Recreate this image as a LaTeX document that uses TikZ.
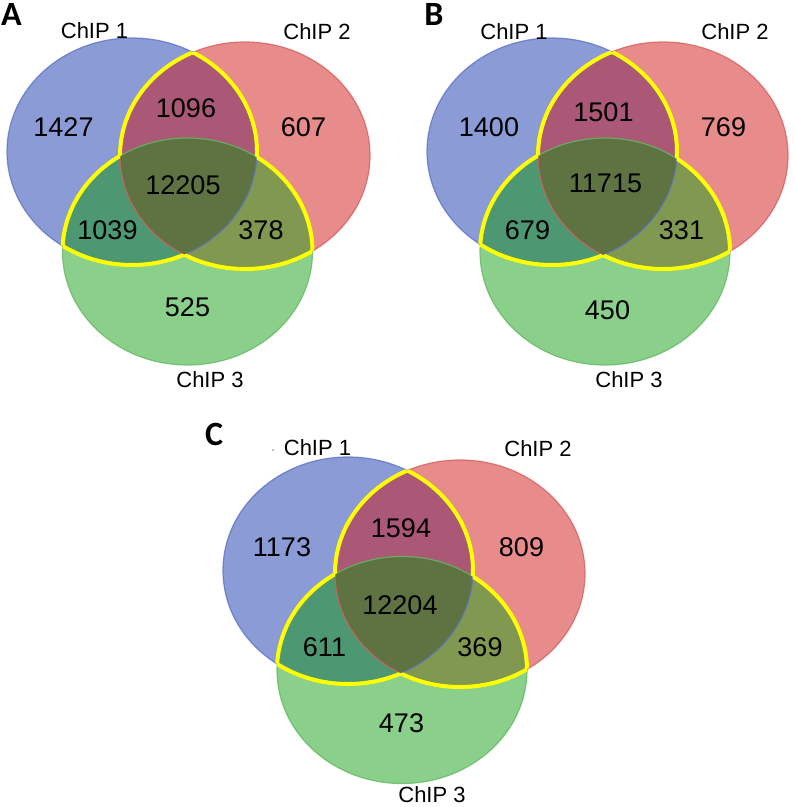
\documentclass[tikz,border=0pt]{standalone}
\usepackage{fontspec}
\setmainfont{Liberation Sans}
\newfontfamily\panelfont{Carlito}
\definecolor{cblue}{RGB}{138,155,214}
\definecolor{cred}{RGB}{231,139,139}
\definecolor{cgreen}{RGB}{138,208,138}
\definecolor{cbr}{RGB}{170,88,118}
\definecolor{cbg}{RGB}{77,152,114}
\definecolor{crg}{RGB}{128,152,80}
\definecolor{ccen}{RGB}{94,114,66}
\definecolor{oblue}{RGB}{95,115,200}
\definecolor{ored}{RGB}{215,95,95}
\definecolor{ogreen}{RGB}{100,185,100}
\definecolor{yel}{RGB}{255,255,0}
\tikzset{
  num/.style={font=\fontsize{27}{30}\selectfont, inner sep=0pt},
  lbl/.style={font=\fontsize{22}{26}\selectfont, inner sep=0pt},
  panel/.style={font=\panelfont\bfseries\fontsize{34}{38}\selectfont, inner sep=0pt},
  ylw/.style={draw=yel, line width=4pt},
  edge/.style={line width=1.2pt, draw opacity=0.8},
}
\newcommand\Ell[1]{(#1) ellipse[x radius=125pt, y radius=113.5pt]}
\newcommand\vennpanel[3]{%
  \fill[cblue] \Ell{#1};
  \fill[cred] \Ell{#2};
  \fill[cgreen] \Ell{#3};
  \begin{scope}\clip \Ell{#1}; \fill[cbr] \Ell{#2};\end{scope}
  \begin{scope}\clip \Ell{#1}; \fill[cbg] \Ell{#3};\end{scope}
  \begin{scope}\clip \Ell{#2}; \fill[crg] \Ell{#3};\end{scope}
  \begin{scope}\clip \Ell{#1}; \clip \Ell{#2}; \fill[ccen] \Ell{#3};\end{scope}
  \draw[edge, oblue] \Ell{#1};
  \draw[edge, ored] \Ell{#2};
  \draw[edge, ogreen] \Ell{#3};
  \begin{scope}[even odd rule]\clip \Ell{#2} \Ell{#3}; \draw[ylw] \Ell{#1};\end{scope}
  \begin{scope}[even odd rule]\clip \Ell{#1} \Ell{#3}; \draw[ylw] \Ell{#2};\end{scope}
  \begin{scope}[even odd rule]\clip \Ell{#1} \Ell{#2}; \draw[ylw] \Ell{#3};\end{scope}
}
\begin{document}
\begin{tikzpicture}[x=1pt, y=-1pt]
\useasboundingbox (0,0) rectangle (794,807);
\fill[white] (0,0) rectangle (794,807);
% Panel A
\vennpanel{132,151.5}{245,155.5}{187.5,251.5}
\node[panel] (pA) at (11.5,14) {A};
\node[lbl] (a1) at (94.5,31) {ChIP 1};
\node[lbl] (a2) at (317,32) {ChIP 2};
\node[lbl] (a3) at (210,380) {ChIP 3};
\node[num] (an1) at (63.5,127) {1427};
\node[num] (an2) at (186,108) {1096};
\node[num] (an3) at (303.5,127) {607};
\node[num] (an4) at (183,185) {12205};
\node[num] (an5) at (107.5,230) {1039};
\node[num] (an6) at (261,230) {378};
\node[num] (an7) at (187.5,307) {525};
% Panel B
\vennpanel{552,151.5}{663,155.5}{605,251.5}
\node[panel] (pB) at (434,14) {B};
\node[lbl] (b1) at (514,32) {ChIP 1};
\node[lbl] (b2) at (735,32) {ChIP 2};
\node[lbl] (b3) at (629,380) {ChIP 3};
\node[num] (bn1) at (489,127) {1400};
\node[num] (bn2) at (603.5,112) {1501};
\node[num] (bn3) at (723.5,127) {769};
\node[num] (bn4) at (605.5,183) {11715};
\node[num] (bn5) at (527.5,230) {679};
\node[num] (bn6) at (681.5,230) {331};
\node[num] (bn7) at (607.5,310) {450};
% Panel C
\vennpanel{348,570.5}{460,573.5}{402,670}
\node[panel] (pC) at (214,434) {C};
\fill[gray] (273,450) circle (0.8pt);
\node[lbl] (c1) at (317.5,448) {ChIP 1};
\node[lbl] (c2) at (538,449) {ChIP 2};
\node[lbl] (c3) at (432,795) {ChIP 3};
\node[num] (cn1) at (282,547) {1173};
\node[num] (cn2) at (401,528) {1594};
\node[num] (cn3) at (521.5,547) {809};
\node[num] (cn4) at (400,605) {12204};
\node[num] (cn5) at (324.5,647) {611};
\node[num] (cn6) at (480,647) {369};
\node[num] (cn7) at (401.5,723) {473};
\end{tikzpicture}
\end{document}
